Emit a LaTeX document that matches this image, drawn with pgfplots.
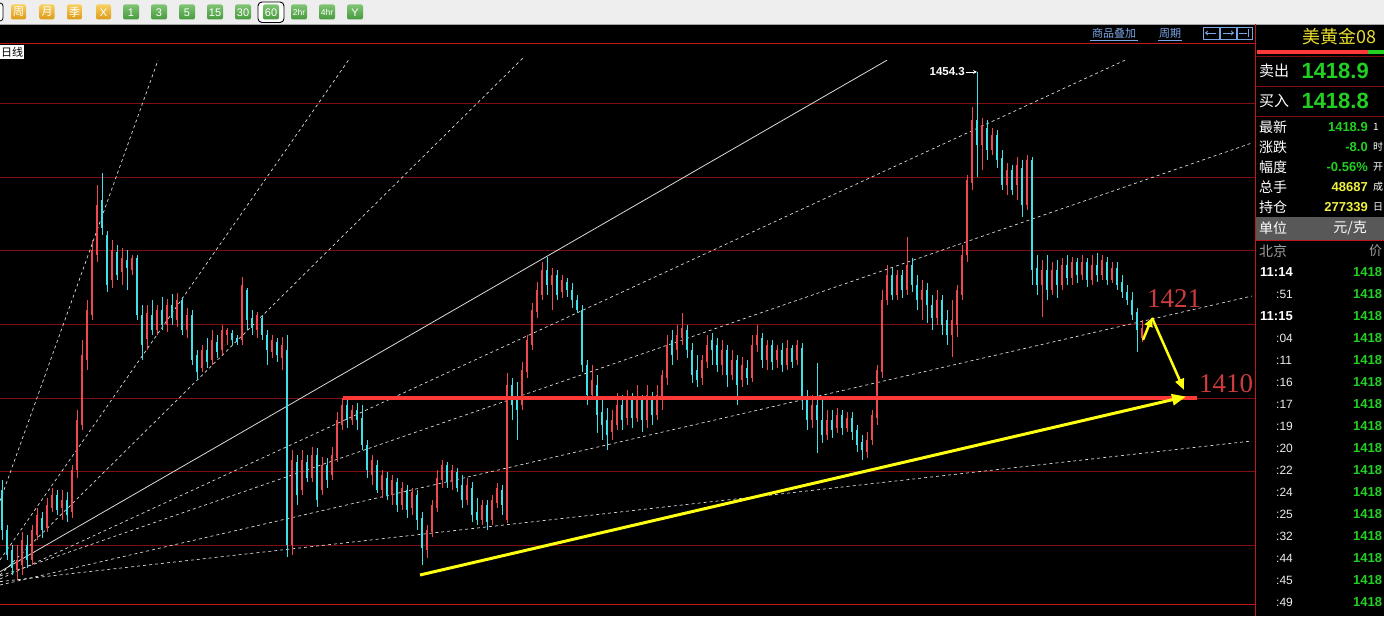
\documentclass[border=0pt]{standalone}
\usepackage{pgfplots}
\pgfplotsset{compat=1.18}
\usepackage{pgfplotstable}
\usepackage{fontspec}
\setmainfont{Liberation Sans}
\newfontfamily\cjk{Noto Sans CJK SC}
\newfontfamily\serifnum{Liberation Serif}
\usetikzlibrary{arrows.meta}
\definecolor{upc}{HTML}{F04850}
\definecolor{dnc}{HTML}{40E0E8}
\definecolor{gridred}{HTML}{801010}
\definecolor{framered}{HTML}{C01818}
\definecolor{hred}{HTML}{FF3838}
\definecolor{lineyel}{HTML}{FFFF10}
\definecolor{annred}{HTML}{CC3C3C}
\definecolor{fanw}{HTML}{DADADA}
\definecolor{qgreen}{HTML}{22D022}
\definecolor{qyellow}{HTML}{F0F040}
\definecolor{tyellow}{HTML}{E8DC30}
\definecolor{linkblue}{HTML}{7AA6E6}
\definecolor{tbgray}{HTML}{EEEEEE}
\definecolor{obt}{HTML}{F8D060}
\definecolor{obb}{HTML}{DC9A18}
\definecolor{gbt}{HTML}{80C474}
\definecolor{gbb}{HTML}{479A3E}
\definecolor{band}{HTML}{585858}
\newcommand{\fs}[1]{\fontsize{#1}{#1}\selectfont}
\newcommand{\obtn}[2]{\shade[top color=obt, bottom color=obb, rounded corners=2pt] (#1-7.5,4.5) rectangle (#1+7.5,19.5);
  \node[text=white, font=\cjk\fs{11}, inner sep=0pt] at (#1,12) {#2};}
\newcommand{\gbtn}[3]{\shade[top color=gbt, bottom color=gbb, rounded corners=2pt] (#1-8,4.5) rectangle (#1+8,19.5);
  \node[text=white, font=\fs{#3}, inner sep=0pt] at (#1,12.3) {#2};}

\pgfplotstableread{
x o h l c
2 1397.5 1398.9 1390.7 1392.1
7 1392.1 1392.7 1388.0 1388.7
12 1389.3 1390.0 1385.9 1386.9
17 1386.6 1390.0 1385.3 1388.0
22 1387.3 1391.8 1385.9 1390.7
27 1390.0 1391.4 1386.9 1388.0
32 1388.0 1392.7 1387.3 1392.1
37 1391.4 1395.0 1390.7 1394.1
42 1393.7 1394.5 1391.0 1392.1
47 1392.3 1396.4 1391.8 1395.5
52 1395.0 1397.8 1394.5 1396.8
57 1396.8 1397.5 1394.1 1394.8
62 1395.0 1397.5 1393.4 1396.1
67 1396.1 1397.2 1393.1 1394.1
72 1394.5 1400.9 1393.7 1400.2
77 1400.2 1408.4 1399.1 1407.0
82 1406.3 1417.9 1405.7 1415.8
87 1415.2 1423.3 1413.8 1422.0
92 1421.3 1431.5 1420.6 1430.1
97 1429.4 1438.9 1428.5 1436.2
102 1436.9 1440.6 1432.2 1433.1
107 1432.2 1432.7 1424.4 1425.4
112 1426.0 1431.5 1424.9 1430.1
117 1429.8 1430.8 1426.0 1426.7
122 1427.1 1430.4 1425.4 1429.0
127 1428.8 1430.1 1424.7 1427.7
132 1427.4 1429.4 1426.7 1429.0
137 1429.0 1429.4 1420.6 1421.3
142 1421.3 1422.7 1415.2 1417.2
147 1418.0 1422.7 1416.5 1421.5
152 1421.3 1423.3 1418.6 1419.3
157 1419.3 1422.7 1418.6 1422.0
162 1422.0 1423.7 1419.3 1419.9
167 1419.9 1423.4 1419.0 1422.7
172 1422.7 1424.1 1419.9 1420.9
177 1420.6 1424.3 1419.6 1423.3
182 1423.3 1423.7 1418.6 1419.3
187 1419.3 1422.2 1418.2 1421.3
192 1421.3 1422.0 1414.5 1415.2
197 1415.8 1416.5 1412.4 1413.5
202 1414.1 1417.2 1413.5 1416.5
207 1416.5 1418.2 1414.1 1414.9
212 1415.2 1419.3 1414.5 1417.9
217 1417.6 1418.6 1415.4 1416.3
222 1416.5 1419.9 1415.8 1419.3
227 1418.6 1419.5 1417.2 1419.3
232 1418.8 1419.3 1417.2 1417.9
237 1418.2 1418.6 1417.2 1417.6
242 1417.9 1426.4 1417.2 1425.4
247 1424.7 1425.0 1419.3 1420.6
252 1420.9 1422.0 1418.6 1419.5
257 1419.3 1421.7 1418.2 1421.3
262 1420.9 1421.3 1417.9 1418.6
267 1418.6 1419.3 1414.5 1416.5
272 1416.2 1418.6 1415.4 1417.9
277 1417.6 1418.2 1414.9 1415.8
282 1415.4 1418.3 1413.8 1417.2
287 1416.5 1418.6 1388.4 1390.0
292 1390.0 1402.9 1388.7 1401.6
297 1401.3 1402.2 1395.5 1396.8
302 1397.5 1402.9 1396.8 1401.6
307 1401.3 1402.2 1398.6 1399.1
312 1399.1 1403.3 1398.6 1402.2
317 1402.2 1403.2 1395.2 1396.1
322 1397.5 1402.0 1396.8 1400.9
327 1400.9 1401.8 1397.8 1398.9
332 1399.5 1403.3 1398.9 1402.2
337 1401.8 1408.1 1401.3 1407.0
342 1406.3 1410.0 1405.7 1409.0
347 1409.0 1409.7 1405.9 1407.0
352 1407.0 1409.0 1406.3 1408.4
357 1408.4 1409.3 1405.7 1407.0
362 1407.3 1409.0 1402.9 1403.6
367 1403.6 1404.3 1399.1 1400.2
372 1399.5 1402.2 1398.2 1401.6
377 1400.9 1401.6 1397.1 1397.5
382 1397.5 1400.2 1396.4 1399.5
387 1399.1 1399.9 1396.1 1396.8
392 1396.8 1399.5 1395.5 1398.9
397 1398.6 1399.1 1394.5 1395.5
402 1395.5 1398.6 1394.8 1397.8
407 1397.5 1398.2 1393.7 1394.8
412 1395.0 1397.8 1394.1 1397.2
417 1396.8 1397.5 1392.1 1393.4
422 1393.7 1394.5 1387.3 1389.6
427 1389.3 1392.7 1388.3 1392.1
432 1391.8 1396.1 1391.1 1395.5
437 1395.0 1400.2 1394.5 1399.1
442 1398.9 1401.6 1397.8 1400.9
447 1400.9 1401.3 1397.8 1398.6
452 1398.6 1400.9 1397.5 1400.2
457 1399.9 1400.5 1397.2 1397.8
462 1398.2 1399.5 1395.0 1396.1
467 1396.1 1399.1 1395.5 1398.2
472 1397.8 1398.6 1393.1 1394.1
477 1394.5 1396.4 1392.7 1393.4
482 1393.4 1396.1 1392.7 1395.5
487 1395.5 1396.1 1392.1 1393.1
492 1393.4 1396.8 1392.7 1396.1
497 1395.8 1398.4 1395.0 1397.8
502 1397.5 1398.2 1394.1 1395.5
507 1393.4 1413.4 1393.0 1411.8
512 1411.8 1412.7 1407.0 1409.0
517 1409.7 1412.2 1404.3 1408.4
522 1409.0 1414.9 1408.4 1413.8
527 1413.5 1418.6 1412.7 1417.9
532 1417.2 1422.9 1416.5 1422.0
537 1421.7 1425.8 1420.9 1424.7
542 1424.0 1428.5 1423.3 1427.4
547 1427.4 1429.2 1424.0 1425.4
552 1425.4 1427.7 1421.9 1426.7
557 1426.7 1427.4 1423.3 1424.0
562 1424.4 1426.7 1423.6 1426.0
567 1425.7 1426.3 1423.7 1424.7
572 1424.7 1425.6 1422.2 1423.3
577 1423.3 1424.0 1421.6 1422.0
582 1422.0 1422.7 1413.5 1414.5
587 1414.5 1415.2 1409.0 1410.4
592 1410.4 1414.5 1409.7 1412.4
597 1411.8 1413.1 1405.2 1407.7
602 1408.1 1409.7 1404.3 1406.3
607 1407.0 1408.6 1402.9 1405.0
612 1405.4 1408.4 1404.3 1407.0
617 1406.3 1410.7 1405.7 1409.0
622 1409.0 1410.4 1405.7 1407.0
627 1407.3 1411.1 1406.3 1410.0
632 1409.7 1410.7 1405.9 1407.3
637 1407.3 1411.8 1406.7 1409.7
642 1409.7 1410.4 1405.4 1407.0
647 1407.0 1411.8 1405.9 1410.4
652 1410.0 1410.8 1406.3 1407.7
657 1407.7 1411.8 1407.0 1410.4
662 1409.7 1413.8 1408.4 1413.1
667 1412.7 1418.6 1411.8 1417.2
672 1417.9 1419.3 1414.5 1415.8
677 1416.5 1419.9 1415.2 1418.6
682 1418.2 1421.6 1417.2 1419.5
687 1419.3 1419.9 1415.4 1416.5
692 1416.5 1417.5 1412.0 1413.1
697 1413.8 1415.8 1411.5 1412.4
702 1412.7 1415.8 1411.8 1415.2
707 1414.9 1418.6 1414.1 1417.2
712 1417.9 1418.8 1414.5 1416.5
717 1417.2 1418.2 1413.5 1414.5
722 1414.5 1417.9 1413.1 1416.5
727 1416.5 1417.2 1411.5 1413.1
732 1413.1 1416.5 1412.4 1415.2
737 1415.2 1415.8 1409.0 1411.8
742 1412.4 1415.6 1411.5 1414.5
747 1414.1 1415.2 1411.8 1412.7
752 1412.7 1418.6 1412.2 1417.2
757 1417.2 1419.9 1416.3 1418.6
762 1418.2 1418.8 1414.1 1415.2
767 1415.2 1417.9 1413.8 1417.2
772 1417.2 1417.9 1413.8 1414.9
777 1415.2 1417.2 1414.1 1416.5
782 1416.5 1417.5 1413.5 1414.5
787 1414.5 1417.9 1413.8 1416.8
792 1416.8 1417.2 1414.1 1414.9
797 1415.2 1417.9 1414.5 1417.2
802 1416.8 1417.5 1408.4 1409.7
807 1410.0 1411.1 1405.7 1407.0
812 1407.0 1410.4 1405.9 1409.0
817 1409.0 1414.8 1402.5 1407.0
822 1407.0 1409.7 1403.9 1405.0
827 1405.0 1408.4 1404.3 1407.0
832 1407.0 1408.4 1404.6 1405.7
837 1405.9 1408.6 1405.2 1407.7
842 1407.7 1408.4 1405.0 1405.9
847 1405.9 1408.1 1405.4 1407.3
852 1407.3 1408.1 1404.3 1405.4
857 1405.7 1406.3 1402.7 1403.6
862 1404.0 1405.0 1401.6 1402.9
867 1402.7 1405.4 1401.8 1404.3
872 1404.3 1408.4 1403.6 1407.7
877 1407.3 1414.5 1406.3 1413.8
882 1413.5 1424.7 1412.7 1423.3
887 1423.3 1428.1 1422.6 1426.7
892 1426.7 1427.7 1423.3 1424.0
897 1424.0 1427.4 1423.3 1426.7
902 1426.7 1427.4 1423.6 1424.7
907 1424.7 1431.9 1424.0 1428.1
912 1428.1 1429.0 1424.4 1425.4
917 1425.4 1426.7 1421.9 1423.3
922 1423.3 1426.0 1420.6 1424.7
927 1424.7 1425.6 1420.2 1422.6
932 1422.6 1424.0 1419.3 1420.9
937 1420.9 1424.7 1419.9 1423.3
942 1423.3 1424.0 1418.6 1419.9
947 1420.6 1422.0 1417.2 1418.6
952 1418.6 1423.3 1415.6 1420.6
957 1419.9 1425.4 1418.3 1424.7
962 1424.0 1430.8 1423.3 1429.4
967 1429.4 1440.3 1428.5 1439.6
972 1439.2 1449.6 1438.3 1447.8
977 1447.8 1454.3 1440.0 1444.4
982 1444.4 1448.1 1441.0 1447.1
987 1446.7 1447.8 1442.3 1443.7
992 1443.7 1446.7 1443.0 1445.7
997 1445.7 1446.4 1441.3 1442.3
1002 1442.6 1443.7 1438.3 1439.0
1007 1439.0 1441.9 1437.6 1441.0
1012 1441.0 1441.7 1437.6 1438.3
1017 1439.0 1442.8 1436.9 1441.7
1022 1441.3 1442.3 1434.6 1436.2
1027 1436.2 1443.0 1435.6 1442.3
1032 1442.3 1442.8 1425.4 1427.4
1037 1427.7 1429.4 1424.0 1425.4
1042 1425.4 1428.8 1421.0 1427.4
1047 1427.4 1429.4 1423.3 1424.7
1052 1424.7 1428.5 1424.0 1427.4
1057 1427.4 1428.8 1423.6 1425.4
1062 1425.4 1429.0 1424.7 1428.1
1067 1428.1 1429.4 1425.4 1426.3
1072 1426.3 1429.2 1425.4 1428.5
1077 1428.5 1429.0 1425.6 1426.7
1082 1426.7 1429.4 1426.0 1428.5
1087 1428.5 1429.0 1425.1 1426.0
1092 1426.0 1429.4 1425.4 1428.1
1097 1428.1 1429.7 1425.8 1426.7
1102 1426.7 1429.4 1426.0 1428.8
1107 1428.5 1429.2 1425.4 1426.0
1112 1426.0 1428.5 1425.6 1427.7
1117 1427.7 1428.5 1424.7 1425.4
1122 1425.7 1426.7 1423.6 1424.4
1127 1424.4 1425.4 1422.6 1423.3
1132 1423.3 1424.4 1420.6 1421.3
1137 1421.7 1422.2 1416.2 1419.3
1142 1418.2 1420.6 1417.6 1419.5
}\candles

\begin{document}
\begin{tikzpicture}
\useasboundingbox (0pt,0pt) rectangle (1384pt,616pt);
\fill[black] (0pt,0pt) rectangle (1384pt,616pt);

\begin{scope}[shift={(0pt,616pt)}, x=1pt, y=-1pt]
  % toolbar
  \fill[tbgray] (0,0) rectangle (1384,24);
  \draw[gray!70, line width=0.8pt] (0,24) -- (1384,24);
  \draw[black, fill=white, rounded corners=3pt, line width=0.8pt] (-12,3) rectangle (3,21);
  \obtn{18.5}{周}
  \obtn{47}{月}
  \obtn{74.5}{季}
  \shade[top color=obt, bottom color=obb, rounded corners=2pt] (96,4.5) rectangle (111,19.5);
  \node[text=white, font=\fs{11}, inner sep=0pt] at (103.5,12.3) {X};
  \gbtn{131}{1}{11}
  \gbtn{159}{3}{11}
  \gbtn{187}{5}{11}
  \gbtn{215}{15}{11}
  \gbtn{243}{30}{11}
  \draw[black, fill=white, rounded corners=4pt, line width=0.9pt] (258,2) rectangle (284,22.5);
  \gbtn{271}{60}{11}
  \gbtn{299}{2hr}{8.5}
  \gbtn{327}{4hr}{8.5}
  \gbtn{355}{Y}{11}

  % top links
  \node[text=linkblue, font=\cjk\fs{11}, inner sep=0pt] at (1114,33) {商品叠加};
  \draw[linkblue, line width=0.6pt] (1090,40) -- (1138,40);
  \node[text=linkblue, font=\cjk\fs{11}, inner sep=0pt] at (1170,33) {周期};
  \draw[linkblue, line width=0.6pt] (1158,40) -- (1182,40);
  \draw[linkblue, line width=0.7pt] (1203,27) rectangle (1219,39);
  \draw[linkblue, line width=0.7pt] (1220,27) rectangle (1236,39);
  \draw[linkblue, line width=0.7pt] (1237,27) rectangle (1252,39);
  \draw[linkblue, line width=0.8pt, -{Stealth[length=3pt,width=5pt]}] (1216,33) -- (1205,33);
  \draw[linkblue, line width=0.8pt, -{Stealth[length=3pt,width=5pt]}] (1223,33) -- (1234,33);
  \draw[linkblue, line width=0.8pt] (1239,33) -- (1247,33);
  \draw[linkblue, line width=0.8pt] (1248,29) -- (1248,37);

  % frame
  \draw[framered, line width=1pt] (0,44) -- (1255,44);
  \draw[framered, line width=1pt] (0,604) -- (1255,604);
  \draw[framered, line width=1pt] (1255,24) -- (1255,616);

  % 日线 box
  \fill[white] (0,45) rectangle (24,59);
  \node[anchor=west, text=black, font=\cjk\fs{11}, inner sep=0pt] at (1,52) {日线};

  % right panel
  \node[text=tyellow, font=\cjk\fs{18}, inner sep=0pt] at (1339,37) {美黄金08};
  \fill[hred] (1257,50) rectangle (1368,54);
  \fill[qgreen] (1368,50) rectangle (1384,54);
  \draw[gridred, line width=0.8pt] (1256,56) -- (1384,56);
  \draw[gridred, line width=0.8pt] (1256,86) -- (1384,86);
  \draw[gridred, line width=0.8pt] (1256,116) -- (1384,116);
  \node[anchor=west, text=white, font=\cjk\fs{15}, inner sep=0pt] at (1259,71) {卖出};
  \node[anchor=east, text=qgreen, font=\bfseries\fs{22}, inner sep=0pt] at (1369,71) {1418.9};
  \node[anchor=west, text=white, font=\cjk\fs{15}, inner sep=0pt] at (1259,101) {买入};
  \node[anchor=east, text=qgreen, font=\bfseries\fs{22}, inner sep=0pt] at (1369,101) {1418.8};

  \foreach \yy/\lab/\val/\col/\cut in {127/最新/1418.9/qgreen/1, 147/涨跌/-8.0/qgreen/时, 167/幅度/-0.56\%/qgreen/开, 187/总手/48687/qyellow/成, 207/持仓/277339/qyellow/日}{
    \node[anchor=west, text=white, font=\cjk\fs{14}, inner sep=0pt] at (1259,\yy) {\lab};
    \node[anchor=east, text=\col, font=\bfseries\fs{13}, inner sep=0pt] at (1368,\yy) {\val};
    \node[anchor=west, text=white, font=\cjk\fs{10}, inner sep=0pt] at (1373,\yy) {\cut};
  }
  \fill[band] (1256,217) rectangle (1384,240);
  \node[anchor=west, text=white, font=\cjk\fs{14}, inner sep=0pt] at (1259,228) {单位};
  \node[text=white, font=\cjk\fs{14}, inner sep=0pt] at (1350,228) {元/克};
  \draw[framered, line width=0.8pt] (1256,240.5) -- (1384,240.5);
  \node[anchor=west, text=gray!75, font=\cjk\fs{14}, inner sep=0pt] at (1259,251) {北京};
  \node[anchor=west, text=gray!75, font=\cjk\fs{13}, inner sep=0pt] at (1369,251) {价};

  \foreach \yy/\tt/\bold in {272/11:14/1, 294/:51/0, 316/11:15/1, 338/:04/0, 360/:11/0, 382/:16/0, 404/:17/0, 426/:19/0, 448/:20/0, 470/:22/0, 492/:24/0, 514/:25/0, 536/:32/0, 558/:44/0, 580/:45/0, 602/:49/0}{
    \ifnum\bold=1
      \node[anchor=west, text=white, font=\bfseries\fs{13}, inner sep=0pt] at (1260,\yy) {\tt};
    \else
      \node[anchor=west, text=gray!15, font=\fs{12}, inner sep=0pt] at (1276,\yy) {\tt};
    \fi
    \node[anchor=west, text=qgreen, font=\bfseries\fs{13}, inner sep=0pt] at (1353,\yy) {1418};
  }
\end{scope}

\begin{axis}[
  at={(0pt,12pt)}, anchor=south west, scale only axis,
  width=1255pt, height=560pt,
  xmin=0, xmax=1255, ymin=1382.01, ymax=1458.10,
  axis line style={draw=none},
  xtick=\empty, ytick={1390,1400,1410,1420,1430,1440,1450},
  yticklabels={,,,,,,}, ytick style={draw=none},
  ymajorgrids, grid style={gridred, line width=0.8pt},
  clip=true,
]
% Gann fan
\addplot[fanw, line width=0.7pt, dash pattern=on 3pt off 3pt] coordinates {(0,1396.0) (158,1455.9)};
\addplot[fanw, line width=0.7pt, dash pattern=on 3pt off 3pt] coordinates {(0,1388.0) (350,1456.2)};
\addplot[fanw, line width=0.7pt, dash pattern=on 3pt off 3pt] coordinates {(0,1385.95) (523,1456.2)};
\addplot[fanw, line width=0.8pt] coordinates {(0,1386.4) (887,1455.9)};
\addplot[fanw, line width=0.7pt, dash pattern=on 3pt off 3pt] coordinates {(0,1385.41) (1125,1455.9)};
\addplot[fanw, line width=0.7pt, dash pattern=on 3pt off 3pt] coordinates {(0,1385.82) (1252,1444.65)};
\addplot[fanw, line width=0.7pt, dash pattern=on 3pt off 3pt] coordinates {(0,1384.59) (1252,1423.86)};
\addplot[fanw, line width=0.7pt, dash pattern=on 3pt off 3pt] coordinates {(0,1385.05) (1252,1404.16)};

% wicks
\addplot[draw=none, mark=none, forget plot,
  restrict expr to domain={\thisrow{c}-\thisrow{o}}{0:200},
  error bars/.cd, y dir=both, y explicit, error mark=none,
  error bar style={draw=upc, solid, line width=1pt}]
  table[x=x, y=c, y error plus expr=\thisrow{h}-\thisrow{c}, y error minus expr=\thisrow{c}-\thisrow{l}] {\candles};
\addplot[draw=none, mark=none, forget plot,
  restrict expr to domain={\thisrow{o}-\thisrow{c}}{0.01:200},
  error bars/.cd, y dir=both, y explicit, error mark=none,
  error bar style={draw=dnc, solid, line width=1pt}]
  table[x=x, y=c, y error plus expr=\thisrow{h}-\thisrow{c}, y error minus expr=\thisrow{c}-\thisrow{l}] {\candles};
% bodies
\addplot[draw=none, mark=none, forget plot,
  restrict expr to domain={\thisrow{c}-\thisrow{o}}{0:200},
  error bars/.cd, y dir=minus, y explicit, error mark=none,
  error bar style={draw=upc, solid, line width=2.8pt}]
  table[x=x, y=c, y error minus expr=\thisrow{c}-\thisrow{o}] {\candles};
\addplot[draw=none, mark=none, forget plot,
  restrict expr to domain={\thisrow{o}-\thisrow{c}}{0.01:200},
  error bars/.cd, y dir=plus, y explicit, error mark=none,
  error bar style={draw=dnc, solid, line width=2.8pt}]
  table[x=x, y=c, y error plus expr=\thisrow{o}-\thisrow{c}] {\candles};

% support line 1410
\addplot[hred, line width=3.5pt] coordinates {(343,1410) (1197,1410)};
% yellow trend line
\addplot[lineyel, line width=3pt, -{Triangle[length=14pt,width=11pt]}] coordinates {(420,1385.95) (1186,1410.2)};
% small arrows
\addplot[lineyel, line width=2.5pt, -{Triangle[length=9pt,width=8pt]}] coordinates {(1143,1417.9) (1152,1420.9)};
\addplot[lineyel, line width=2.5pt, -{Triangle[length=11pt,width=9pt]}] coordinates {(1152,1420.9) (1184,1411.1)};

\node[text=annred, font=\serifnum\fs{27}, inner sep=0pt] at (axis cs:1174,1423.5) {1421};
\node[text=annred, font=\serifnum\fs{27}, inner sep=0pt] at (axis cs:1226,1412.0) {1410};
\node[anchor=east, text=white, font=\bfseries\fs{11.5}, inner sep=0pt] at (axis cs:965,1454.3) {1454.3};
\addplot[white, line width=0.8pt, -{Stealth[length=4pt,width=4pt]}] coordinates {(966,1454.3) (977,1454.3)};
\end{axis}
\end{tikzpicture}
\end{document}
